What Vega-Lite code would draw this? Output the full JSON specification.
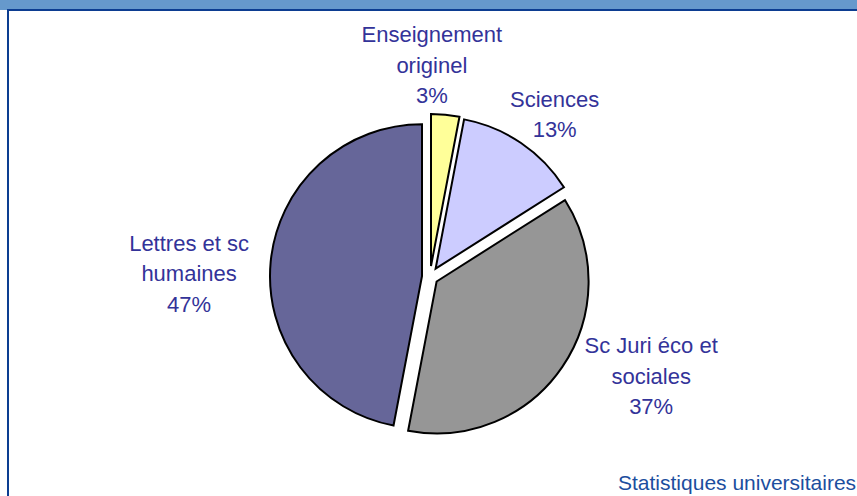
{
  "$schema": "https://vega.github.io/schema/vega-lite/v6.json",
  "width": 849,
  "height": 486,
  "autosize": {"type": "none"},
  "padding": {"left": 8, "top": 10, "right": 0, "bottom": 0},
  "background": "white",
  "config": {
    "view": {"stroke": null},
    "font": "Liberation Sans"
  },
  "title": {
    "text": "Statistiques universitaires",
    "orient": "top",
    "anchor": "start",
    "offset": 0,
    "dx": 618,
    "dy": 553,
    "baseline": "alphabetic",
    "fontSize": 21,
    "fontWeight": "normal",
    "color": "#1c4e9e",
    "font": "Liberation Sans"
  },
  "data": {
    "values": [
      {"idx": 1, "cat": "Enseignement originel", "value": 3, "label": "Enseignement\noriginel\n3%"},
      {"idx": 2, "cat": "Sciences", "value": 13, "label": "Sciences\n13%"},
      {"idx": 3, "cat": "Sc Juri éco et sociales", "value": 37, "label": "Sc Juri éco et\nsociales\n37%"},
      {"idx": 4, "cat": "Lettres et sc humaines", "value": 47, "label": "Lettres et sc\nhumaines\n47%"}
    ]
  },
  "layer": [
    {
      "data": {"values": [{"part": "band"}]},
      "mark": {"type": "rect", "x": {"expr": "-8"}, "x2": {"expr": "width + 8"}, "y": {"expr": "-10"}, "y2": 0, "fill": "#6699CC", "strokeWidth": 0},
      "encoding": {}
    },
    {
      "data": {"values": [{"part": "frame"}]},
      "mark": {"type": "rect", "x": 0, "x2": {"expr": "width + 6"}, "y": 0, "y2": {"expr": "height + 6"}, "fill": "white", "stroke": "#0c3d91", "strokeWidth": 2},
      "encoding": {}
    },
    {
      "transform": [
        {"stack": "value", "groupby": [], "sort": [{"field": "idx"}], "as": ["v0", "v1"]},
        {"filter": "datum.idx === 1"}
      ],
      "mark": {"type": "arc", "radius": 152, "stroke": "black", "strokeWidth": 2, "fill": "#FFFF99", "xOffset": -1.5, "yOffset": 13},
      "encoding": {
        "theta": {"field": "v0", "type": "quantitative", "scale": {"domain": [0, 100]}},
        "theta2": {"field": "v1"}
      }
    },
    {
      "transform": [
        {"stack": "value", "groupby": [], "sort": [{"field": "idx"}], "as": ["v0", "v1"]},
        {"filter": "datum.idx === 2"}
      ],
      "mark": {"type": "arc", "radius": 152, "stroke": "black", "strokeWidth": 2, "fill": "#CCCCFF", "xOffset": 3.1, "yOffset": 15.7},
      "encoding": {
        "theta": {"field": "v0", "type": "quantitative", "scale": {"domain": [0, 100]}},
        "theta2": {"field": "v1"}
      }
    },
    {
      "transform": [
        {"stack": "value", "groupby": [], "sort": [{"field": "idx"}], "as": ["v0", "v1"]},
        {"filter": "datum.idx === 3"}
      ],
      "mark": {"type": "arc", "radius": 152, "stroke": "black", "strokeWidth": 2, "fill": "#969696", "xOffset": 4.1, "yOffset": 28.5},
      "encoding": {
        "theta": {"field": "v0", "type": "quantitative", "scale": {"domain": [0, 100]}},
        "theta2": {"field": "v1"}
      }
    },
    {
      "transform": [
        {"stack": "value", "groupby": [], "sort": [{"field": "idx"}], "as": ["v0", "v1"]},
        {"filter": "datum.idx === 4"}
      ],
      "mark": {"type": "arc", "radius": 152, "stroke": "black", "strokeWidth": 2, "fill": "#666699", "xOffset": -10.5, "yOffset": 23.25},
      "encoding": {
        "theta": {"field": "v0", "type": "quantitative", "scale": {"domain": [0, 100]}},
        "theta2": {"field": "v1"}
      }
    },
    {
      "mark": {"type": "text", "radius": 211, "fontSize": 22, "lineBreak": "\n", "lineHeight": 30.5, "color": "#333399", "baseline": "middle", "align": "center", "dx": -20.5, "dy": -7.5},
      "encoding": {
        "theta": {"field": "value", "type": "quantitative", "stack": "zero"},
        "order": {"field": "idx", "type": "quantitative"},
        "text": {"condition": {"test": "datum.idx === 1", "field": "label"}, "value": ""}
      }
    },
    {
      "mark": {"type": "text", "radius": 204, "fontSize": 22, "lineBreak": "\n", "lineHeight": 30.5, "color": "#333399", "baseline": "middle", "align": "center", "dx": 7.5, "dy": 15.5},
      "encoding": {
        "theta": {"field": "value", "type": "quantitative", "stack": "zero"},
        "order": {"field": "idx", "type": "quantitative"},
        "text": {"condition": {"test": "datum.idx === 2", "field": "label"}, "value": ""}
      }
    },
    {
      "mark": {"type": "text", "radius": 242, "fontSize": 22, "lineBreak": "\n", "lineHeight": 30.5, "color": "#333399", "baseline": "middle", "align": "center", "dx": 18.5, "dy": -43},
      "encoding": {
        "theta": {"field": "value", "type": "quantitative", "stack": "zero"},
        "order": {"field": "idx", "type": "quantitative"},
        "text": {"condition": {"test": "datum.idx === 3", "field": "label"}, "value": ""}
      }
    },
    {
      "mark": {"type": "text", "radius": 242, "fontSize": 22, "lineBreak": "\n", "lineHeight": 30.5, "color": "#333399", "baseline": "middle", "align": "center", "dx": -2.5, "dy": 13.5},
      "encoding": {
        "theta": {"field": "value", "type": "quantitative", "stack": "zero"},
        "order": {"field": "idx", "type": "quantitative"},
        "text": {"condition": {"test": "datum.idx === 4", "field": "label"}, "value": ""}
      }
    }
  ]
}
